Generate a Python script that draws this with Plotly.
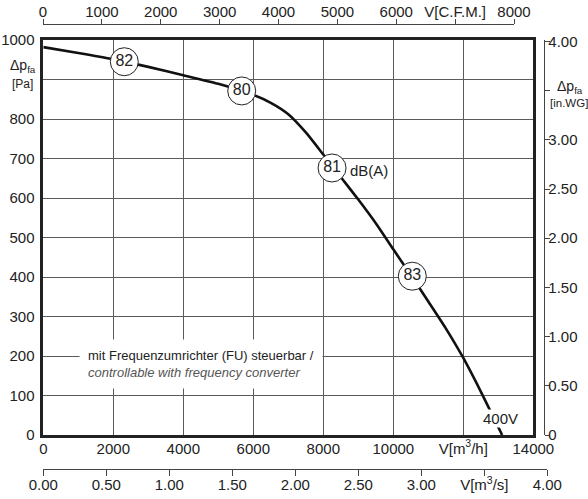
import plotly.graph_objects as go

# ---------------- data ----------------
flow_m3h = [0, 1000, 2000, 3000, 4000, 5000, 6000, 6500, 7000, 7500, 8000, 8500,
            9000, 9500, 10000, 10500, 11000, 11500, 12000, 12500, 13110]
pressure_pa = [982, 967, 951, 932, 911, 889, 861, 841, 812, 766, 710, 653,
               596, 536, 470, 405, 338, 270, 195, 110, 0]

noise_flow = [2314, 5669, 8250, 10543]
noise_pressure = [945, 871, 676, 402]
noise_labels = ["82", "80", "81", "83"]

x_ticks = [0, 2000, 4000, 6000, 8000, 10000, 12000, 14000]
x_ticktext = ["0", "2000", "4000", "6000", "8000", "10000", "V[m<sup>3</sup>/h]", "14000"]
y_ticks = [0, 100, 200, 300, 400, 500, 600, 700, 800, 900, 1000]
y_ticktext = ["0", "100", "200", "300", "400", "500", "600", "700", "800", "", "1000"]
inwg_ticks = [0, 0.5, 1.0, 1.5, 2.0, 2.5, 3.0, 3.5, 4.0]
inwg_ticktext = ["0", "0.50", "1.00", "1.50", "2.00", "2.50", "3.00", "", "4.00"]
m3s_ticks = [0, 0.5, 1.0, 1.5, 2.0, 2.5, 3.0, 3.5, 4.0]
m3s_ticktext = ["0.00", "0.50", "1.00", "1.50", "2.00", "2.50", "3.00", "V[m<sup>3</sup>/s]", "4.00"]
cfm_ticks = [0, 1000, 2000, 3000, 4000, 5000, 6000, 7000, 8000]
cfm_ticktext = ["0", "1000", "2000", "3000", "4000", "5000", "6000", "V[C.F.M.]", "8000"]

PA_PER_INWG = 249.089

# ---------------- layout geometry (pixels) ----------------
W, H = 588, 499
ML, MR, MT, MB = 43, 40, 25, 30
PW, PH = W - ML - MR, H - MT - MB


def px(x):
    return (x - ML) / PW


def py(y):
    return (H - MB - y) / PH


FONT = "Liberation Sans, Arial, sans-serif"
TXT = "#222222"

fig = go.Figure()

fig.add_trace(go.Scatter(
    x=flow_m3h, y=pressure_pa, mode="lines",
    line=dict(color="#111111", width=2.6, shape="spline", smoothing=0.6),
    hoverinfo="skip", showlegend=False))

fig.add_trace(go.Scatter(
    x=noise_flow, y=noise_pressure, mode="markers+text",
    text=noise_labels, textposition="middle center",
    textfont=dict(family=FONT, size=16, color=TXT),
    marker=dict(size=28, color="white", line=dict(color="#222222", width=1)),
    hoverinfo="skip", showlegend=False))

# dummy traces to attach the secondary scales
fig.add_trace(go.Scatter(x=[0], y=[0], xaxis="x", yaxis="y2", mode="markers",
                         marker=dict(opacity=0), hoverinfo="skip", showlegend=False))
fig.add_trace(go.Scatter(x=[0], y=[0], xaxis="x3", yaxis="y3", mode="markers",
                         marker=dict(opacity=0), hoverinfo="skip", showlegend=False))
fig.add_trace(go.Scatter(x=[0], y=[0], xaxis="x4", yaxis="y4", mode="markers",
                         marker=dict(opacity=0), hoverinfo="skip", showlegend=False))

y_dom = [py(435), py(40)]

fig.update_layout(
    width=W, height=H,
    margin=dict(l=ML, r=MR, t=MT, b=MB, pad=0, autoexpand=False),
    paper_bgcolor="white", plot_bgcolor="rgba(0,0,0,0)",
    font=dict(family=FONT, size=15, color=TXT),
    showlegend=False,
    xaxis=dict(domain=[px(43.3), px(533.3)], range=[0, 14000], anchor="y", automargin=False,
               tickmode="array", tickvals=x_ticks, ticktext=x_ticktext,
               showgrid=True, gridcolor="#5a5a5a", gridwidth=1,
               showline=True, mirror=True, linecolor="#222222", linewidth=2.5,
               ticks="", ticklabelstandoff=-2, zeroline=False,
               tickfont=dict(size=15, color=TXT)),
    yaxis=dict(domain=y_dom, range=[0, 1000], anchor="x", automargin=False,
               tickmode="array", tickvals=y_ticks, ticktext=y_ticktext,
               showgrid=True, gridcolor="#5a5a5a", gridwidth=1,
               showline=True, mirror=True, linecolor="#222222", linewidth=2.5,
               ticks="outside", ticklen=3, tickcolor="rgba(0,0,0,0)", zeroline=False,
               tickfont=dict(size=15, color=TXT)),
    yaxis2=dict(overlaying="y", side="right", anchor="free", position=px(544.3),
                automargin=False, range=[0, 1000 / PA_PER_INWG],
                tickmode="array", tickvals=inwg_ticks, ticktext=inwg_ticktext,
                showgrid=False, zeroline=False,
                showline=True, linecolor="#444444", linewidth=1,
                ticks="outside", ticklen=5, tickcolor="#444444", ticklabelstandoff=-5,
                tickfont=dict(size=15, color=TXT)),
    xaxis3=dict(domain=[px(43.3), px(547.3)], range=[0, 4], anchor="y3", automargin=False,
                side="bottom",
                tickmode="array", tickvals=m3s_ticks, ticktext=m3s_ticktext,
                showgrid=False, zeroline=False,
                showline=True, linecolor="#444444", linewidth=1,
                ticks="outside", ticklen=6, tickcolor="#444444", ticklabelstandoff=-4,
                tickfont=dict(size=15, color=TXT)),
    yaxis3=dict(domain=[0, 0.01], range=[0, 1], visible=False, anchor="x3", automargin=False),
    xaxis4=dict(domain=[px(43.0), px(514.0)], range=[0, 8000], anchor="y4", automargin=False,
                side="top",
                tickmode="array", tickvals=cfm_ticks, ticktext=cfm_ticktext,
                showgrid=False, zeroline=False,
                showline=True, linecolor="#444444", linewidth=1,
                ticks="outside", ticklen=5, tickcolor="#444444", ticklabelstandoff=-4,
                tickfont=dict(size=15, color=TXT)),
    yaxis4=dict(domain=[0.99, 1], range=[0, 1], visible=False, anchor="x4", automargin=False),
)

ann = []
# axis titles replacing tick labels
ann.append(dict(xref="paper", yref="paper", x=px(23), y=py(66), text="Δp<sub>fa</sub>",
                showarrow=False, font=dict(size=14, color=TXT), xanchor="center", yanchor="middle"))
ann.append(dict(xref="paper", yref="paper", x=px(22.5), y=py(84), text="[Pa]",
                showarrow=False, font=dict(size=12, color=TXT), xanchor="center", yanchor="middle"))
ann.append(dict(xref="paper", yref="paper", x=px(570), y=py(87), text="Δp<sub>fa</sub>",
                showarrow=False, font=dict(size=14, color=TXT), xanchor="center", yanchor="middle"))
ann.append(dict(xref="paper", yref="paper", x=px(568.5), y=py(103), text="[in.WG]",
                showarrow=False, font=dict(size=11.5, color=TXT), xanchor="center", yanchor="middle"))
# in-plot labels
ann.append(dict(xref="x", yref="y", x=8706, y=669, text="dB(A)", showarrow=False,
                font=dict(size=15, color=TXT), xanchor="left", yanchor="middle"))
ann.append(dict(xref="x", yref="y", x=13049, y=42, text="400V", showarrow=False,
                font=dict(size=15, color=TXT), xanchor="center", yanchor="middle",
                bgcolor="white", borderpad=0))
ann.append(dict(xref="x", yref="y", x=1030, y=181,
                text="mit Frequenzumrichter (FU) steuerbar /<br>"
                     "<span style='color:#555555'><i>controllable with frequency converter</i></span>",
                showarrow=False, align="left", font=dict(size=13, color=TXT),
                xanchor="left", yanchor="middle", bgcolor="white", borderpad=8))
fig.update_layout(annotations=ann)

fig.write_html("out.html", config={"displayModeBar": False},
               post_script="document.body.style.margin='0';")
